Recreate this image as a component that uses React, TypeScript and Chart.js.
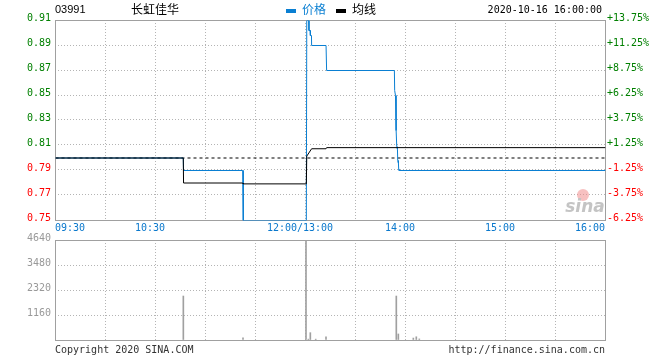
import React, { useEffect, useRef } from "react";
import { Chart, registerables } from "chart.js";

Chart.register(...registerables);

// ---------- data ----------
const stockCode = "03991";
const stockName = "长虹佳华";
const legendPrice = "价格";
const legendAvg = "均线";
const dateText = "2020-10-16 16:00:00";
const footerLeft = "Copyright 2020 SINA.COM";
const footerRight = "http://finance.sina.com.cn";

const prevClose = 0.8;

const priceTimes = [
  "09:30", "10:46:40", "10:46:50", "11:22:20", "11:22:40", "13:00:30", "13:00:45",
  "13:02:00", "13:02:05", "13:02:50", "13:02:55", "13:03:35", "13:03:40",
  "13:12:20", "13:12:40", "13:53:20", "13:53:30", "13:54:00", "13:54:10",
  "13:54:35", "13:54:45", "13:55:10", "13:55:20", "13:55:45", "13:55:55",
  "13:56:10", "16:00",
];
const priceValues = [
  0.8, 0.8, 0.79, 0.79, 0.75, 0.75, 0.91,
  0.91, 0.902, 0.902, 0.898, 0.898, 0.89,
  0.89, 0.87, 0.87, 0.854, 0.85, 0.826,
  0.822, 0.809, 0.807, 0.798, 0.796, 0.791,
  0.79, 0.79,
];

const avgTimes = [
  "09:30", "10:46:40", "10:46:50", "11:22:20", "11:22:40", "13:00:30",
  "13:00:45", "13:03:40", "13:12:20", "13:12:40", "16:00",
];
const avgValues = [0.8, 0.8, 0.78, 0.78, 0.7793, 0.7793, 0.8015, 0.8074, 0.8074, 0.8083, 0.8083];

const volTimes = [
  "10:47", "11:22:48", "13:00:36", "13:02", "13:03:12", "13:06:25", "13:12:36",
  "13:54:47", "13:56", "14:05", "14:06:47", "14:08:35",
];
const volValues = [2040, 100, 4640, 40, 340, 40, 150, 2040, 280, 90, 150, 50];

const xLabelTimes = ["09:30", "10:30", "12:00", "14:00", "15:00", "16:00"];
const xLabels = ["09:30", "10:30", "12:00/13:00", "14:00", "15:00", "16:00"];

const priceMin = 0.75;
const priceMax = 0.91;
const priceStep = 0.02;
const pctMin = -6.25;
const pctMax = 13.75;
const pctStep = 2.5;
const volMax = 4640;
const volStep = 1160;

// ---------- styles ----------
const MONO = "'DejaVu Sans Mono', monospace";
const GREEN = "#008000";
const RED = "#ff0000";
const BLUE = "#0a7fd2";
const XBLUE = "#0a78cc";
const GRID = "#b4b4b4";
const FRAME = "#a0a0a0";
const VOLGRAY = "#a0a0a0";

const toIdx = (t: string) => {
  const [h, m, s = "0"] = t.split(":");
  let mins = +h * 60 + +m + +s / 60 - 570;
  if (+h >= 13) mins -= 60;
  return mins;
};

const pts = (times: string[], vals: number[]) => times.map((t, i) => ({ x: toIdx(t), y: vals[i] }));

const framePlugin = {
  id: "frame",
  beforeDatasetsDraw(chart: any) {
    const { ctx, chartArea: a } = chart;
    ctx.save();
    ctx.strokeStyle = FRAME;
    ctx.lineWidth = 1;
    ctx.strokeRect(Math.round(a.left) + 0.5, Math.round(a.top) + 0.5, Math.round(a.right - a.left), Math.round(a.bottom - a.top));
    ctx.restore();
  },
};

const textPlugin = {
  id: "texts",
  afterDraw(chart: any) {
    const { ctx } = chart;
    const xs = chart.scales.x;
    ctx.save();
    // x labels
    ctx.font = `10px ${MONO}`;
    ctx.fillStyle = XBLUE;
    ctx.textBaseline = "alphabetic";
    xLabels.forEach((lab, i) => {
      const px = xs.getPixelForValue(toIdx(xLabelTimes[i]));
      if (i === 0) {
        ctx.textAlign = "left";
        ctx.fillText(lab, px, 231);
      } else if (i === xLabels.length - 1) {
        ctx.textAlign = "right";
        ctx.fillText(lab, px, 231);
      } else {
        ctx.textAlign = "center";
        ctx.fillText(lab, px - 5, 231);
      }
    });
    // header
    ctx.textAlign = "left";
    ctx.fillStyle = "#000";
    ctx.font = `11px 'Liberation Sans', sans-serif`;
    ctx.fillText(stockCode, 55, 13);
    ctx.font = `12px 'Noto Sans CJK SC', sans-serif`;
    ctx.fillText(stockName, 131, 14);
    ctx.fillStyle = BLUE;
    ctx.fillRect(286, 9, 10, 4);
    ctx.fillText(legendPrice, 302, 14);
    ctx.fillStyle = "#000";
    ctx.fillRect(336, 9, 10, 4);
    ctx.fillText(legendAvg, 352, 14);
    ctx.font = `10px ${MONO}`;
    ctx.textAlign = "right";
    ctx.fillText(dateText, 602, 13);
    // footer
    ctx.fillStyle = "#333";
    ctx.textAlign = "left";
    ctx.fillText(footerLeft, 55, 353);
    ctx.textAlign = "right";
    ctx.fillText(footerRight, 605, 353);
    // watermark
    ctx.fillStyle = "rgba(240,140,140,0.55)";
    ctx.beginPath();
    ctx.arc(583, 195, 6, 0, Math.PI * 2);
    ctx.fill();
    ctx.fillStyle = "#c4c4c4";
    ctx.font = `italic bold 17px 'DejaVu Sans', sans-serif`;
    ctx.textAlign = "center";
    ctx.fillText("sina", 585, 212);
    ctx.restore();
  },
};

const crispPlugin = {
  id: "crisp",
  beforeDatasetsDraw(chart: any) {
    chart.ctx.save();
    chart.ctx.translate(0.5, 0.5);
  },
  afterDatasetsDraw(chart: any) {
    chart.ctx.restore();
  },
};

export default function App() {
  const refA = useRef<HTMLCanvasElement>(null);
  const refB = useRef<HTMLCanvasElement>(null);

  useEffect(() => {
    const font = { family: MONO, size: 10 };
    const xScale = () => ({
      type: "linear" as const,
      min: 0,
      max: 330,
      offset: false,
      afterFit: (s: any) => {
        s.height = 0;
      },
      ticks: { display: false, stepSize: 30, autoSkip: false },
      grid: { color: GRID, drawTicks: false, offset: false, lineWidth: 1 },
      border: { display: false, dash: [1, 2] },
    });

    const chartA = new Chart(refA.current!, {
      type: "line",
      data: {
        datasets: [
          {
            label: legendAvg,
            data: pts(avgTimes, avgValues),
            borderColor: "#000",
            borderWidth: 1,
            pointRadius: 0,
            tension: 0,
            fill: false,
          },
          {
            label: legendPrice,
            data: pts(priceTimes, priceValues),
            borderColor: BLUE,
            borderWidth: 1,
            pointRadius: 0,
            tension: 0,
            fill: false,
          },
          {
            label: "prev",
            data: [
              { x: 0, y: prevClose },
              { x: 330, y: prevClose },
            ],
            borderColor: "#000",
            borderWidth: 1,
            borderDash: [3, 3],
            pointRadius: 0,
            fill: false,
          },
        ],
      },
      options: {
        animation: false,
        responsive: false,
        devicePixelRatio: 1,
        events: [],
        layout: { padding: { top: 20, bottom: 140, left: 0, right: 0 } },
        plugins: { legend: { display: false }, tooltip: { enabled: false } },
        scales: {
          x: xScale(),
          y: {
            type: "linear",
            position: "left",
            min: priceMin,
            max: priceMax,
            afterFit: (s: any) => {
              s.width = 55;
            },
            ticks: {
              stepSize: priceStep,
              padding: 4,
              labelOffset: -2,
              font,
              color: (c: any) => (c.tick && c.tick.value > prevClose ? GREEN : RED),
              callback: (v: any) => Number(v).toFixed(2),
            },
            grid: { color: GRID, drawTicks: false, lineWidth: 1 },
            border: { display: false, dash: [1, 2] },
          },
          y2: {
            type: "linear",
            position: "right",
            min: pctMin,
            max: pctMax,
            afterFit: (s: any) => {
              s.width = 55;
            },
            ticks: {
              stepSize: pctStep,
              padding: 2,
              labelOffset: -2,
              font,
              color: (c: any) => (c.tick && c.tick.value > 0 ? GREEN : RED),
              callback: (v: any) => (Number(v) > 0 ? "+" : "") + Number(v).toFixed(2) + "%",
            },
            grid: { display: false, drawTicks: false },
            border: { display: false },
          },
        },
      } as any,
      plugins: [framePlugin, crispPlugin, textPlugin],
    });

    const chartB = new Chart(refB.current!, {
      type: "bar",
      data: {
        datasets: [
          {
            label: "vol",
            data: pts(volTimes, volValues),
            backgroundColor: VOLGRAY,
            barThickness: 1,
            borderWidth: 0,
          },
        ],
      },
      options: {
        animation: false,
        responsive: false,
        devicePixelRatio: 1,
        events: [],
        layout: { padding: { top: 240, bottom: 20, left: 0, right: 55 } },
        plugins: { legend: { display: false }, tooltip: { enabled: false } },
        scales: {
          x: xScale(),
          y: {
            type: "linear",
            position: "left",
            min: 0,
            max: volMax,
            afterFit: (s: any) => {
              s.width = 55;
            },
            ticks: {
              stepSize: volStep,
              padding: 4,
              labelOffset: -2,
              font,
              color: "#999",
              callback: (v: any) => (Number(v) === 0 ? "" : String(v)),
            },
            grid: { color: GRID, drawTicks: false, lineWidth: 1 },
            border: { display: false, dash: [1, 2] },
          },
        },
      } as any,
      plugins: [framePlugin],
    });

    return () => {
      chartA.destroy();
      chartB.destroy();
    };
  }, []);

  const cs: React.CSSProperties = { position: "absolute", left: 0, top: 0, width: 660, height: 360 };
  return (
    <div style={{ position: "absolute", left: 0, top: 0, width: 660, height: 360, background: "#fff" }}>
      <canvas ref={refB} width={660} height={360} style={cs} />
      <canvas ref={refA} width={660} height={360} style={cs} />
    </div>
  );
}
